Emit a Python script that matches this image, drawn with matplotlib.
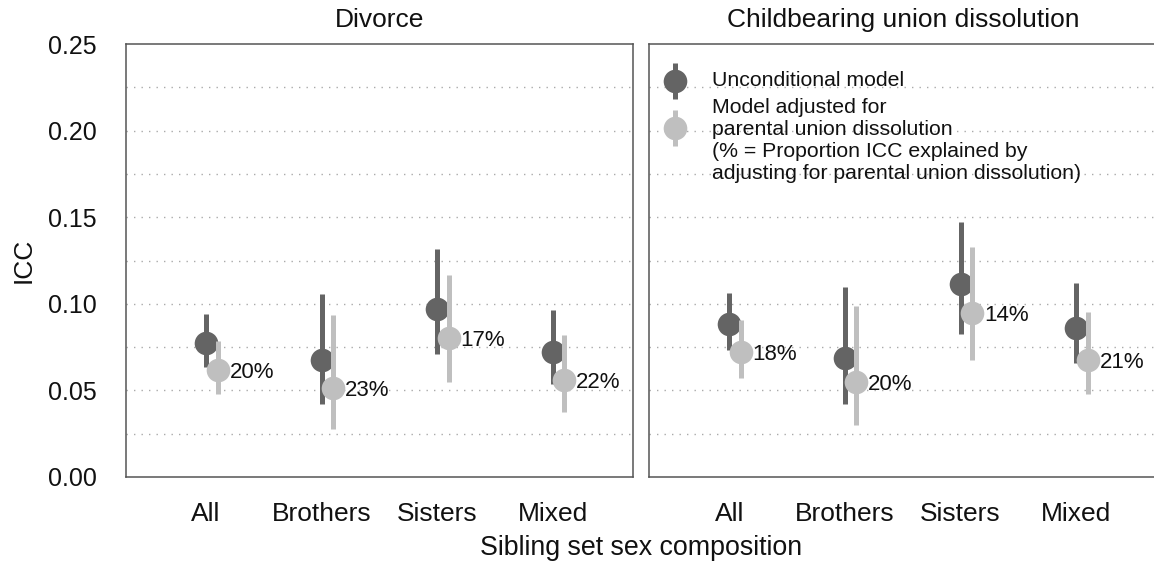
import numpy as np
import matplotlib
matplotlib.use("Agg")
from matplotlib import pyplot as plt
from matplotlib.lines import Line2D

plt.rcParams['font.family'] = ['Liberation Sans', 'DejaVu Sans']

# sibling set sex composition
cats = ['All', 'Brothers', 'Sisters', 'Mixed']

# Divorce: ICC with 95% intervals
div_unc = [0.0775, 0.0673, 0.0971, 0.0721]
div_unc_lo = [0.0635, 0.0419, 0.0708, 0.0535]
div_unc_hi = [0.0942, 0.1054, 0.1318, 0.0965]
div_adj = [0.0615, 0.0515, 0.0804, 0.0562]
div_adj_lo = [0.0477, 0.0279, 0.0548, 0.0375]
div_adj_hi = [0.0788, 0.0933, 0.1167, 0.0821]
div_pct = ['20%', '23%', '17%', '22%']

# Childbearing union dissolution
cbu_unc = [0.0885, 0.0687, 0.1112, 0.0860]
cbu_unc_lo = [0.0735, 0.0419, 0.0827, 0.0658]
cbu_unc_hi = [0.1062, 0.1096, 0.1475, 0.1119]
cbu_adj = [0.0721, 0.0548, 0.0946, 0.0677]
cbu_adj_lo = [0.0573, 0.0298, 0.0673, 0.0477]
cbu_adj_hi = [0.0904, 0.0990, 0.1327, 0.0950]
cbu_pct = ['18%', '20%', '14%', '21%']

DARK = '#646464'
LIGHT = '#bfbfbf'
FRAME = '#555555'
INK = '#111111'
W, H = 1154, 564

fig = plt.figure(figsize=(W / 100, H / 100), dpi=100)

bottom = (H - 477) / H
height = (477 - 44) / H
ax1 = fig.add_axes([126 / W, bottom, 507 / W, height])
ax2 = fig.add_axes([649 / W, bottom, 508 / W, height])


def panel(ax, title, unc, unc_lo, unc_hi, adj, adj_lo, adj_hi, pct):
    x = np.arange(1, len(cats) + 1)
    xa = x + 0.1
    for i in range(len(cats)):
        ax.plot([x[i], x[i]], [unc_lo[i], unc_hi[i]], color=DARK, lw=3.6,
                solid_capstyle='butt', zorder=3)
        ax.plot(x[i], unc[i], 'o', color=DARK, ms=17, mec='none', zorder=4)
        ax.plot([xa[i], xa[i]], [adj_lo[i], adj_hi[i]], color=LIGHT, lw=3.6,
                solid_capstyle='butt', zorder=5)
        ax.plot(xa[i], adj[i], 'o', color=LIGHT, ms=17, mec='none', zorder=6)
        ax.annotate(pct[i], (xa[i], adj[i]), xytext=(8.5, 0),
                    textcoords='offset points', ha='left', va='center_baseline',
                    fontsize=16, color=INK, zorder=7)

    ax.set_xlim(0.307, 4.697)
    ax.set_ylim(0, 0.25)
    ax.set_xticks(x)
    ax.set_xticklabels(cats)
    ax.set_yticks(np.arange(0, 0.251, 0.05))
    for g in np.arange(0.025, 0.226, 0.025):
        ax.axhline(g, color='#aaaaaa', lw=1.0, ls=(0, (1, 4.4)), zorder=1)
    ax.tick_params(length=0, colors=INK)
    ax.tick_params(axis='x', labelsize=19, pad=18)
    ax.tick_params(axis='y', labelsize=18, pad=21)
    for s in ax.spines.values():
        s.set_color(FRAME)
        s.set_linewidth(1.1)
    ax.set_title(title, fontsize=19, color=INK, pad=12)


panel(ax1, 'Divorce', div_unc, div_unc_lo, div_unc_hi,
      div_adj, div_adj_lo, div_adj_hi, div_pct)
panel(ax2, 'Childbearing union dissolution', cbu_unc, cbu_unc_lo, cbu_unc_hi,
      cbu_adj, cbu_adj_lo, cbu_adj_hi, cbu_pct)
ax2.set_yticklabels([])
ax2.spines['right'].set_visible(False)

# legend keys drawn in the right panel
def key(ax, y, color):
    ax.add_line(Line2D([0.052, 0.052], [y - 0.042, y + 0.042], color=color,
                       lw=3.6, solid_capstyle='butt', transform=ax.transAxes,
                       zorder=8))
    ax.add_line(Line2D([0.052], [y], marker='o', color=color, ms=17,
                       mec='none', transform=ax.transAxes, zorder=9))

key(ax2, (477 - 81) / 433, DARK)
key(ax2, (477 - 128) / 433, LIGHT)
ax2.text(0.125, (477 - 80) / 433, 'Unconditional model', transform=ax2.transAxes,
         fontsize=15.3, va='center', ha='left', color=INK)
ax2.text(0.125, (477 - 98) / 433,
         'Model adjusted for\nparental union dissolution\n'
         '(% = Proportion ICC explained by\n'
         'adjusting for parental union dissolution)',
         transform=ax2.transAxes, fontsize=15.3, va='top', ha='left',
         linespacing=1.21, color=INK)

fig.text(641 / W, (H - 548) / H, 'Sibling set sex composition', fontsize=19.3,
         ha='center', va='center', color=INK)
fig.text(24 / W, (H - 260) / H, 'ICC', fontsize=19, rotation=90,
         ha='center', va='center', color=INK)

fig.savefig('out.png', dpi=100)
